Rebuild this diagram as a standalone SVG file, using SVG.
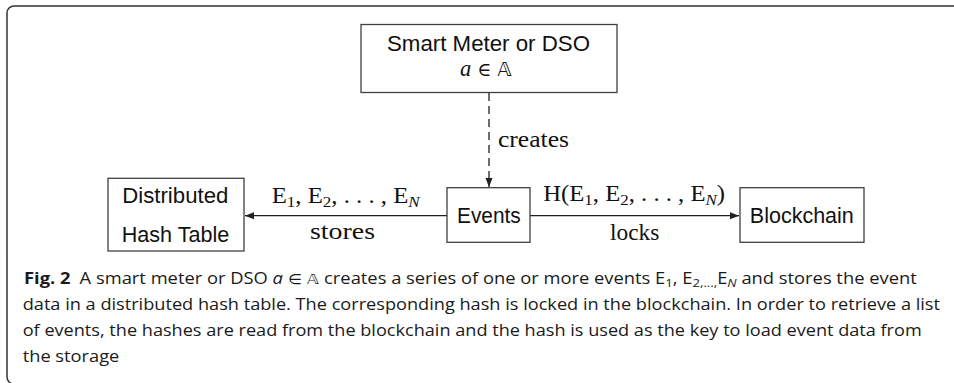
<svg xmlns="http://www.w3.org/2000/svg" width="954" height="383" viewBox="0 0 954 383">
<style>
.box{fill:#fff;stroke:#404040;stroke-width:1.3}
.edge{fill:none;stroke:#202020;stroke-width:1.3}
.sans{font-family:"Liberation Sans","DejaVu Sans",sans-serif;font-size:22px;fill:#111}
.serif{font-family:"Liberation Serif","DejaVu Serif",serif;font-size:22.5px;fill:#111}
.sub{font-size:15.5px}
.cap{font-family:"Open Sans","Noto Sans","DejaVu Sans",sans-serif;font-size:16px;fill:#1a1a1a}
.csub{font-size:11.5px}
.math{font-family:"DejaVu Sans",sans-serif;font-size:14px}
</style>
<defs>
<marker id="ah" markerUnits="userSpaceOnUse" markerWidth="10" markerHeight="8" refX="9" refY="4" orient="auto">
<path d="M0,0.5 L9,4 L0,7.5 Z" fill="#202020"/>
</marker>
</defs>
<rect x="7" y="6" width="1000" height="378" rx="7" fill="none" stroke="#333" stroke-width="1.5"/>

<g id="connectors">
<line class="edge" x1="489" y1="93" x2="489" y2="187" stroke-dasharray="8 5" marker-end="url(#ah)"/>
<text class="serif" x="498" y="147" textLength="71" lengthAdjust="spacingAndGlyphs">creates</text>
<line class="edge" x1="447" y1="215.7" x2="245" y2="215.7" marker-end="url(#ah)"/>
<text class="serif" x="271.7" y="203.3" textLength="148" lengthAdjust="spacingAndGlyphs">E<tspan class="sub" dy="4">1</tspan><tspan dy="-4">, E</tspan><tspan class="sub" dy="4">2</tspan><tspan dy="-4">, . . . , E</tspan><tspan class="sub" font-style="italic" dy="4">N</tspan></text>
<text class="serif" x="310" y="239" textLength="65" lengthAdjust="spacingAndGlyphs">stores</text>
<line class="edge" x1="530" y1="215.7" x2="739" y2="215.7" marker-end="url(#ah)"/>
<text class="serif" x="543.3" y="200.5" textLength="181.7" lengthAdjust="spacingAndGlyphs">H(E<tspan class="sub" dy="4">1</tspan><tspan dy="-4">, E</tspan><tspan class="sub" dy="4">2</tspan><tspan dy="-4">, . . . , E</tspan><tspan class="sub" font-style="italic" dy="4">N</tspan><tspan dy="-4">)</tspan></text>
<text class="serif" x="610" y="239.5" textLength="49.3" lengthAdjust="spacingAndGlyphs">locks</text>
</g>

<g id="smart-meter">
<rect class="box" x="361" y="24.5" width="256" height="68"/>
<text class="sans" x="387" y="51" textLength="203" lengthAdjust="spacingAndGlyphs">Smart Meter or DSO</text>
<text class="serif" x="460" y="75.5"><tspan font-style="italic">a</tspan><tspan font-family="DejaVu Serif,serif" font-size="19"> ∈ </tspan><tspan font-family="DejaVu Sans,sans-serif" font-size="19">𝔸</tspan></text>
</g>

<g id="events">
<rect class="box" x="447" y="187.7" width="83" height="54.6"/>
<text class="sans" x="457" y="223.3" textLength="63.7" lengthAdjust="spacingAndGlyphs">Events</text>
</g>

<g id="dht">
<rect class="box" x="108" y="178.3" width="136" height="72.7"/>
<text class="sans" x="122.3" y="203.3" textLength="106" lengthAdjust="spacingAndGlyphs">Distributed</text>
<text class="sans" x="121.7" y="241.7" textLength="107.6" lengthAdjust="spacingAndGlyphs">Hash  Table</text>
</g>

<g id="blockchain">
<rect class="box" x="740" y="187.7" width="124" height="54.6"/>
<text class="sans" x="749.8" y="223" textLength="104" lengthAdjust="spacingAndGlyphs">Blockchain</text>
</g>

<g id="caption">
<text class="cap" x="24" y="284" textLength="892.7" lengthAdjust="spacingAndGlyphs"><tspan font-weight="bold">Fig. 2</tspan><tspan dx="8">A smart meter or DSO </tspan><tspan font-style="italic">a</tspan><tspan class="math"> ∈ 𝔸 </tspan>creates a series of one or more events E<tspan class="csub" dy="3">1</tspan><tspan dy="-3">, E</tspan><tspan class="csub" dy="3">2,...,</tspan><tspan dy="-3">E</tspan><tspan class="csub" font-style="italic" dy="3">N</tspan><tspan dy="-3"> and stores the event</tspan></text>
<text class="cap" x="22.7" y="310" textLength="917.3" lengthAdjust="spacingAndGlyphs">data in a distributed hash table. The corresponding hash is locked in the blockchain. In order to retrieve a list</text>
<text class="cap" x="22.7" y="336" textLength="899" lengthAdjust="spacingAndGlyphs">of events, the hashes are read from the blockchain and the hash is used as the key to load event data from</text>
<text class="cap" x="22.7" y="361.5" textLength="96.6" lengthAdjust="spacingAndGlyphs">the storage</text>
</g>
</svg>
